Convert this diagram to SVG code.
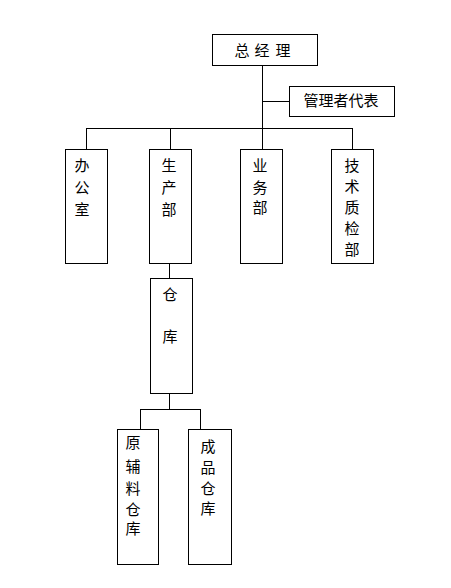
<svg xmlns="http://www.w3.org/2000/svg" width="451" height="588" viewBox="0 0 451 588">
<style>
rect{fill:#fff;stroke:#000;stroke-width:1}
line{stroke:#000;stroke-width:1}
text{font-family:"Noto Sans CJK SC","Noto Sans",sans-serif;font-size:15px;fill:#000;text-anchor:middle}
</style>
<rect x="0" y="0" width="451" height="588" style="stroke:none"/>
<g id="connectors">
<line x1="262.5" y1="65" x2="262.5" y2="128"/>
<line x1="262.5" y1="101.5" x2="289" y2="101.5"/>
<line x1="86.5" y1="128.5" x2="352.5" y2="128.5"/>
<line x1="86.5" y1="128" x2="86.5" y2="149"/>
<line x1="170.5" y1="128" x2="170.5" y2="149"/>
<line x1="262.5" y1="128" x2="262.5" y2="149"/>
<line x1="352.5" y1="128" x2="352.5" y2="149"/>
<line x1="169.5" y1="263" x2="169.5" y2="278"/>
<line x1="169.5" y1="393" x2="169.5" y2="409"/>
<line x1="140.5" y1="409.5" x2="200.5" y2="409.5"/>
<line x1="140.5" y1="409" x2="140.5" y2="429"/>
<line x1="200.5" y1="409" x2="200.5" y2="429"/>
</g>
<g id="n-gm"><rect x="212.5" y="34.5" width="105" height="31"/>
<text x="242" y="56">总</text><text x="262" y="56">经</text><text x="283" y="56">理</text></g>
<g id="n-rep"><rect x="289.5" y="86.5" width="105" height="30"/>
<text x="341" y="106">管理者代表</text></g>
<g id="n-office"><rect x="65.5" y="149.5" width="42" height="114"/>
<text x="82" y="171">办</text><text x="82" y="193">公</text><text x="82" y="215">室</text></g>
<g id="n-prod"><rect x="149.5" y="149.5" width="42" height="114"/>
<text x="169" y="171">生</text><text x="169" y="193">产</text><text x="169" y="215">部</text></g>
<g id="n-biz"><rect x="240.5" y="149.5" width="42" height="114"/>
<text x="260" y="171">业</text><text x="260" y="193">务</text><text x="260" y="213">部</text></g>
<g id="n-tech"><rect x="331.5" y="149.5" width="42" height="114"/>
<text x="352" y="171">技</text><text x="352" y="192">术</text><text x="352" y="213">质</text><text x="352" y="234">检</text><text x="352" y="255">部</text></g>
<g id="n-wh"><rect x="150.5" y="278.5" width="42" height="115"/>
<text x="170" y="300">仓</text><text x="170" y="342">库</text></g>
<g id="n-raw"><rect x="117.5" y="429.5" width="41" height="135"/>
<text x="133" y="448">原</text><text x="133" y="472">辅</text><text x="133" y="494">料</text><text x="133" y="515">仓</text><text x="133" y="534">库</text></g>
<g id="n-fin"><rect x="188.5" y="429.5" width="43" height="135"/>
<text x="208" y="452">成</text><text x="208" y="473">品</text><text x="208" y="494">仓</text><text x="208" y="514">库</text></g>
</svg>
